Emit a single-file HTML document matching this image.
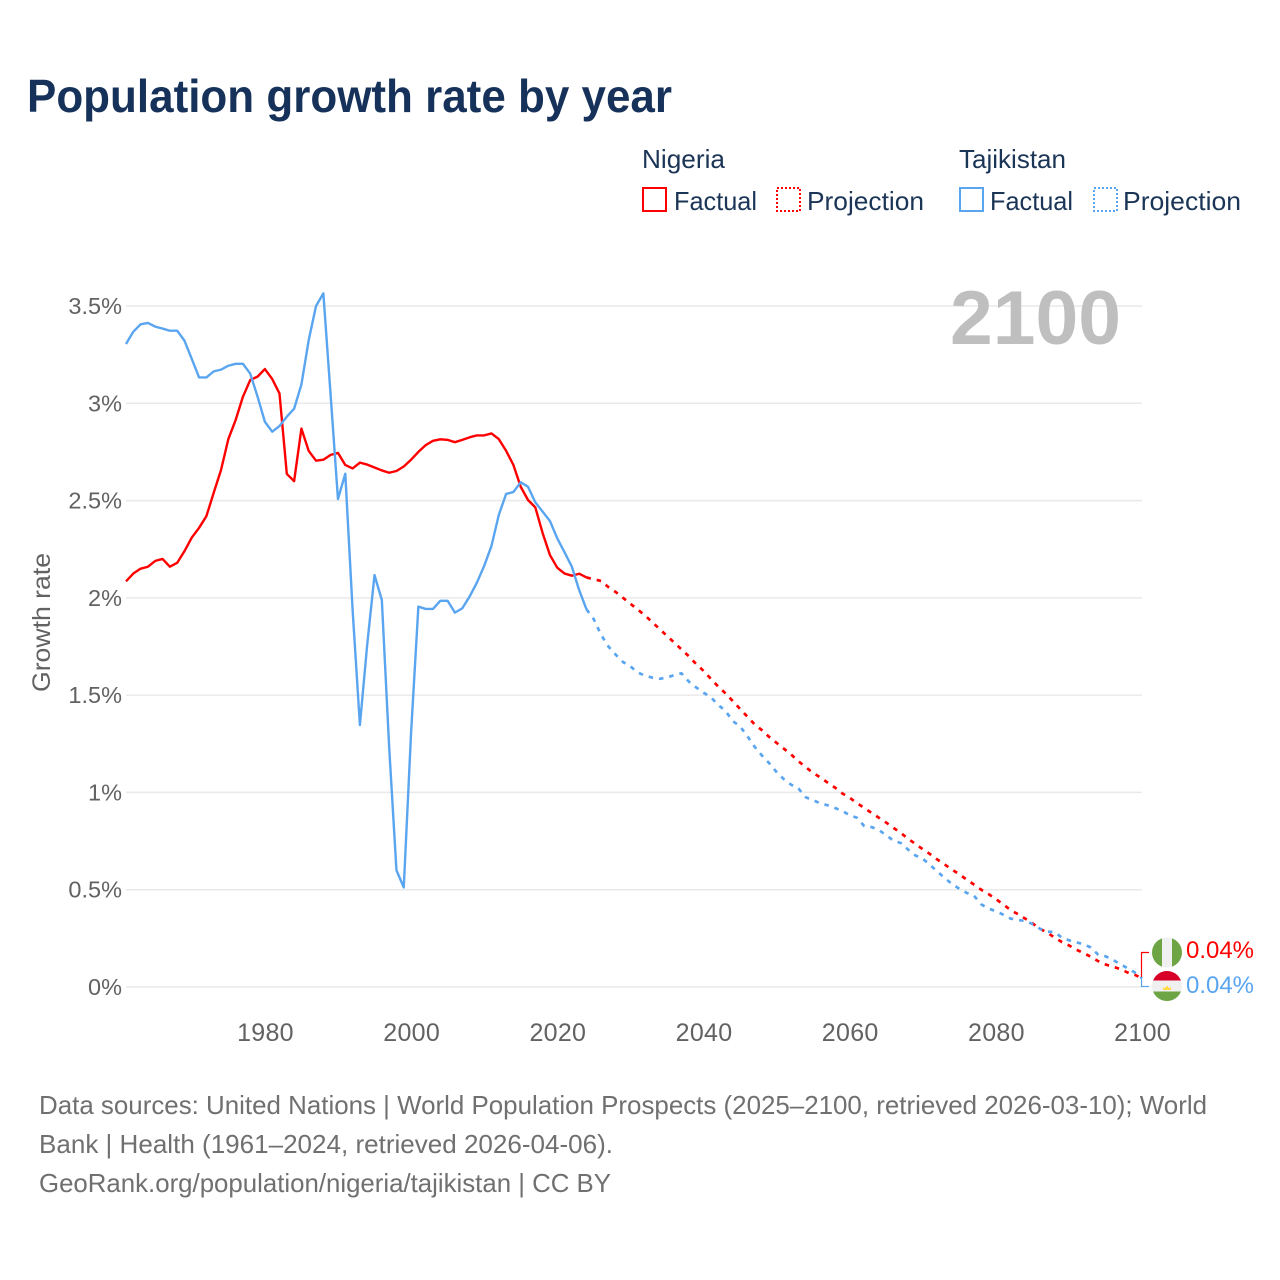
<!DOCTYPE html>
<html lang="en">
<head>
<meta charset="utf-8">
<title>Population growth rate by year</title>
<style>
  html, body { margin: 0; padding: 0; background: #fff; }
  svg { display: block; font-family: "Liberation Sans", sans-serif; }
</style>
</head>
<body>
<svg id="chart" xmlns="http://www.w3.org/2000/svg" width="1280" height="1280" viewBox="0 0 1280 1280">
  <rect width="1280" height="1280" fill="#ffffff"/>
  <text x="27" y="112" font-size="46" font-weight="700" fill="#17325a" textLength="645" lengthAdjust="spacingAndGlyphs">Population growth rate by year</text>

  <g font-size="26" fill="#1b3556">
    <text x="642" y="168" textLength="83" lengthAdjust="spacingAndGlyphs">Nigeria</text>
    <rect x="643" y="188" width="23" height="23" fill="none" stroke="#ff0000" stroke-width="2" shape-rendering="crispEdges"/>
    <text x="674" y="210" textLength="83" lengthAdjust="spacingAndGlyphs">Factual</text>
    <rect x="777" y="188" width="23" height="23" fill="none" stroke="#ff0000" stroke-width="2" stroke-dasharray="2 2" shape-rendering="crispEdges"/>
    <text x="807" y="210" textLength="117" lengthAdjust="spacingAndGlyphs">Projection</text>
    <text x="959" y="168" textLength="107" lengthAdjust="spacingAndGlyphs">Tajikistan</text>
    <rect x="960" y="188" width="23" height="23" fill="none" stroke="#5aa5f0" stroke-width="2" shape-rendering="crispEdges"/>
    <text x="990" y="210" textLength="83" lengthAdjust="spacingAndGlyphs">Factual</text>
    <rect x="1094" y="188" width="23" height="23" fill="none" stroke="#5aa5f0" stroke-width="2" stroke-dasharray="2 2" shape-rendering="crispEdges"/>
    <text x="1123" y="210" textLength="118" lengthAdjust="spacingAndGlyphs">Projection</text>
  </g>

  <g id="grid"></g>
  <g id="y-ticks" font-size="23.5" fill="#626262" text-anchor="end"></g>
  <g id="x-ticks" font-size="25" fill="#626262" text-anchor="middle" letter-spacing="0.3"></g>

  <text transform="translate(50,692) rotate(-90)" font-size="25" fill="#626262" textLength="139" lengthAdjust="spacingAndGlyphs">Growth rate</text>
  <text x="950" y="344" font-size="76" font-weight="700" fill="#bfbfbf" textLength="171" lengthAdjust="spacingAndGlyphs">2100</text>

  <g id="series"></g>

  <g>
    <path d="M1141.5 977V952.5H1149" fill="none" stroke="#ff0000" stroke-width="1.2"/>
    <path d="M1141.5 977V986.5H1149" fill="none" stroke="#5aa5f0" stroke-width="1.2"/>
    <clipPath id="flag-ng"><circle cx="1167" cy="952.5" r="15"/></clipPath>
    <clipPath id="flag-tj"><circle cx="1167" cy="986" r="15"/></clipPath>
    <g clip-path="url(#flag-ng)">
      <rect x="1152" y="937" width="30" height="31" fill="#f0f0f0"/>
      <rect x="1152" y="937" width="10" height="31" fill="#6da544"/>
      <rect x="1172" y="937" width="10" height="31" fill="#6da544"/>
    </g>
    <g clip-path="url(#flag-tj)">
      <rect x="1152" y="971" width="30" height="30" fill="#f0f0f0"/>
      <rect x="1152" y="971" width="30" height="9.5" fill="#d80027"/>
      <rect x="1152" y="991.5" width="30" height="9.5" fill="#6da544"/>
      <path d="M1163 990h8v-3l-1.8 1.2-2.2-2.6-2.2 2.6-1.8-1.2z" fill="#ffda44"/>
    </g>
    <text x="1186" y="958" font-size="24" fill="#ff0000" textLength="68" lengthAdjust="spacingAndGlyphs">0.04%</text>
    <text x="1186" y="993" font-size="24" fill="#5aa5f0" textLength="68" lengthAdjust="spacingAndGlyphs">0.04%</text>
  </g>

  <g font-size="26" fill="#707070">
    <text x="39" y="1114" textLength="1168" lengthAdjust="spacingAndGlyphs">Data sources: United Nations | World Population Prospects (2025–2100, retrieved 2026-03-10); World</text>
    <text x="39" y="1153" textLength="574" lengthAdjust="spacingAndGlyphs">Bank | Health (1961–2024, retrieved 2026-04-06).</text>
    <text x="39" y="1192" textLength="572" lengthAdjust="spacingAndGlyphs">GeoRank.org/population/nigeria/tajikistan | CC BY</text>
  </g>
</svg>

<script>
// Chart data: growth rate in percent, one value per year.
const factualStartYear = 1961;
const projectionStartYear = 2024;
const yTickValues = [0, 0.5, 1, 1.5, 2, 2.5, 3, 3.5];
const yTickLabels = ["0%", "0.5%", "1%", "1.5%", "2%", "2.5%", "3%", "3.5%"];
const xTickYears = [1980, 2000, 2020, 2040, 2060, 2080, 2100];

const nigeriaFactual = [
  2.085, 2.125, 2.15, 2.16, 2.19, 2.20, 2.16, 2.18, 2.24, 2.31,
  2.36, 2.42, 2.54, 2.657, 2.816, 2.914, 3.034, 3.12, 3.137, 3.176,
  3.125, 3.05, 2.637, 2.60, 2.87, 2.755, 2.705, 2.71, 2.735, 2.745,
  2.683, 2.665, 2.695, 2.685, 2.67, 2.655, 2.643, 2.652, 2.675, 2.71,
  2.75, 2.785, 2.807, 2.815, 2.812, 2.80, 2.812, 2.825, 2.835, 2.835,
  2.845, 2.816, 2.756, 2.683, 2.571, 2.503, 2.465, 2.333, 2.22, 2.155,
  2.125, 2.114, 2.124, 2.105
];
const nigeriaProjection = [
  2.105, 2.095, 2.087, 2.055, 2.03, 2.0, 1.97,
  1.94, 1.91, 1.875, 1.84, 1.805, 1.77, 1.735, 1.70, 1.66, 1.625,
  1.585, 1.545, 1.51, 1.47, 1.43, 1.39, 1.35, 1.32, 1.285, 1.255,
  1.225, 1.195, 1.16, 1.13, 1.10, 1.077, 1.05, 1.025, 0.995, 0.973,
  0.945, 0.92, 0.895, 0.87, 0.845, 0.818, 0.792, 0.762, 0.735, 0.708,
  0.683, 0.655, 0.63, 0.603, 0.58, 0.552, 0.527, 0.50, 0.478, 0.452,
  0.425, 0.396, 0.375, 0.352, 0.328, 0.30, 0.28, 0.255, 0.232, 0.214,
  0.192, 0.175, 0.155, 0.133, 0.116, 0.104, 0.093, 0.075, 0.063, 0.045
];
const tajikistanFactual = [
  3.305, 3.368, 3.406, 3.413, 3.394, 3.384, 3.373, 3.373, 3.322, 3.228,
  3.133, 3.133, 3.164, 3.173, 3.193, 3.203, 3.203, 3.152, 3.034, 2.905,
  2.854, 2.883, 2.931, 2.972, 3.097, 3.325, 3.50, 3.565, 3.04, 2.508,
  2.638, 1.94, 1.346, 1.76, 2.117, 1.989, 1.235, 0.60, 0.512, 1.305,
  1.955, 1.943, 1.943, 1.985, 1.985, 1.924, 1.946, 2.006, 2.078, 2.164,
  2.267, 2.426, 2.534, 2.544, 2.594, 2.571, 2.491, 2.443, 2.395, 2.306,
  2.234, 2.16, 2.04, 1.941
];
const tajikistanProjection = [
  1.941, 1.89, 1.81, 1.75, 1.708, 1.67, 1.648,
  1.617, 1.60, 1.59, 1.584, 1.59, 1.603, 1.612, 1.57, 1.54, 1.513,
  1.49, 1.45, 1.42, 1.367, 1.34, 1.29, 1.235, 1.19, 1.15, 1.105,
  1.068, 1.04, 1.02, 0.975, 0.96, 0.944, 0.934, 0.92, 0.905, 0.883,
  0.87, 0.827, 0.822, 0.807, 0.78, 0.752, 0.74, 0.706, 0.676, 0.66,
  0.627, 0.594, 0.56, 0.53, 0.505, 0.484, 0.47, 0.425, 0.403, 0.39,
  0.372, 0.352, 0.344, 0.34, 0.324, 0.30, 0.284, 0.283, 0.255, 0.24,
  0.23, 0.22, 0.203, 0.166, 0.158, 0.14, 0.118, 0.097, 0.075, 0.045
];

const SVG_NS = "http://www.w3.org/2000/svg";
const plotLeft = 126, plotRight = 1142;
const firstYear = 1961, lastYear = 2100;
const plotBottom = 987, pxPerPercent = 194.57;
const RED = "#ff0000", BLUE = "#5aa5f0";

function xScale(year) {
  return plotLeft + (year - firstYear) * (plotRight - plotLeft) / (lastYear - firstYear);
}
function yScale(value) {
  return plotBottom - value * pxPerPercent;
}
function linePath(values, startYear) {
  return values.map(function (v, i) {
    return (i ? "L" : "M") + xScale(startYear + i).toFixed(2) + " " + yScale(v).toFixed(2);
  }).join("");
}

const gridGroup = document.getElementById("grid");
const yTickGroup = document.getElementById("y-ticks");
const xTickGroup = document.getElementById("x-ticks");
const seriesGroup = document.getElementById("series");

yTickValues.forEach(function (v, i) {
  const line = document.createElementNS(SVG_NS, "line");
  
  
  line.setAttribute("x1", plotLeft);
  line.setAttribute("x2", plotRight);
  line.setAttribute("y1", yScale(v));
  line.setAttribute("y2", yScale(v));
  line.setAttribute("stroke", "#e9e9e9");
  line.setAttribute("stroke-width", "1.5");
  gridGroup.appendChild(line);

  const label = document.createElementNS(SVG_NS, "text");
  
  
  label.setAttribute("x", 122);
  label.setAttribute("y", yScale(v) + 8);
  label.textContent = yTickLabels[i];
  yTickGroup.appendChild(label);
});

xTickYears.forEach(function (year) {
  const label = document.createElementNS(SVG_NS, "text");
  
  
  label.setAttribute("x", xScale(year) + 0.6);
  label.setAttribute("y", 1041);
  label.textContent = String(year);
  xTickGroup.appendChild(label);
});

function addSeries(name, values, startYear, color, dash) {
  const path = document.createElementNS(SVG_NS, "path");
  
  
  path.setAttribute("d", linePath(values, startYear));
  path.setAttribute("fill", "none");
  path.setAttribute("stroke", color);
  path.setAttribute("stroke-width", dash ? "2.7" : "2.4");
  path.setAttribute("stroke-linejoin", "round");
  if (dash) path.setAttribute("stroke-dasharray", dash);
  seriesGroup.appendChild(path);
}

addSeries("nigeria-projection-line", nigeriaProjection, projectionStartYear, RED, "4.5 6");
addSeries("tajikistan-projection-line", tajikistanProjection, projectionStartYear, BLUE, "4.5 6");
addSeries("nigeria-factual-line", nigeriaFactual, factualStartYear, RED, null);
addSeries("tajikistan-factual-line", tajikistanFactual, factualStartYear, BLUE, null);
</script>
</body>
</html>
